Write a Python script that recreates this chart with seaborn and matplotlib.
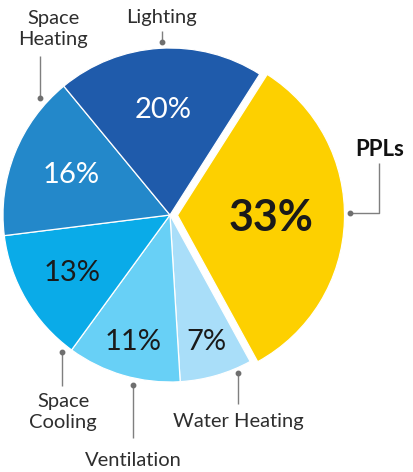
import numpy as np
import matplotlib
matplotlib.use("Agg")
import matplotlib.pyplot as plt
import seaborn as sns

sns.set_theme(style="white")
plt.rcParams["font.family"] = ["Lato", "DejaVu Sans"]

# End-use shares of building electricity
categories = ["PPLs", "Water Heating", "Ventilation", "Space Cooling", "Space Heating", "Lighting"]
shares = [33, 7, 11, 13, 16, 20]
pct_labels = ["33%", "7%", "11%", "13%", "16%", "20%"]

colors = ["#FDD000", "#A9DEF9", "#68D0F6", "#0AABE8", "#2388CA", "#1F5BAB"]
pct_colors = ["#1A1A1A", "#1A1A1A", "#1A1A1A", "#1A1A1A", "white", "white"]

W, H = 413, 472
CX, CY, R = 170, 215, 167


def px(x, y):
    """Pixel position -> data coordinates of the pie (unit radius)."""
    return (x - CX) / R, (CY - y) / R


fig = plt.figure(figsize=(W / 100, H / 100), dpi=100)
ax = fig.add_axes([0, 0, 1, 1])

explode = [0.045, 0, 0, 0, 0, 0]
wedges, _ = ax.pie(
    shares, colors=colors, startangle=57.5, counterclock=False,
    explode=explode, radius=1.0,
    wedgeprops=dict(edgecolor="white", linewidth=0.9),
)

# Percentage labels inside the wedges
pct_r = [0.56, 0.79, 0.79, 0.68, 0.64, 0.63]
for w, lab, col, r in zip(wedges, pct_labels, pct_colors, pct_r):
    ang = np.deg2rad((w.theta1 + w.theta2) / 2)
    cx, cy = w.center
    x, y = cx + r * np.cos(ang), cy + r * np.sin(ang)
    if lab == "33%":
        ax.text(x, y, lab, ha="center", va="center", color=col,
                fontsize=31, fontweight="bold")
    else:
        ax.text(x, y, lab, ha="center", va="center", color=col,
                fontsize=21, fontweight="normal")

# Category call-outs with leader lines
line_kw = dict(color="#7F7F7F", linewidth=1.0, solid_capstyle="butt")


def leader(points):
    xs, ys = zip(*[px(*p) for p in points])
    ax.plot(xs, ys, **line_kw)
    ax.plot(xs[0], ys[0], "o", color="#6F6F6F", markersize=3.2)


leader([(162, 42), (162, 31)])
leader([(40, 98), (40, 56)])
leader([(350, 213), (379, 213), (379, 163)])
leader([(62, 352), (62, 386)])
leader([(133, 385), (133, 438)])
leader([(238, 373), (238, 404)])

txt_kw = dict(ha="center", va="center", color="#2E2E2E", fontsize=14.5,
              fontweight="normal", linespacing=1.35)
ax.text(*px(162, 17), "Lighting", **txt_kw)
ax.text(*px(53, 29), "Space\nHeating", **txt_kw)
ax.text(*px(63, 412), "Space\nCooling", **txt_kw)
ax.text(*px(133, 461), "Ventilation", **txt_kw)
ax.text(*px(238, 422), "Water Heating", **txt_kw)
ax.text(*px(380, 149), "PPLs", ha="center", va="center", color="#111111",
        fontsize=16, fontweight="bold")

ax.set_xlim(-CX / R, (W - CX) / R)
ax.set_ylim((CY - H) / R, CY / R)
ax.set_aspect("equal")
ax.axis("off")

fig.savefig("out.png", dpi=100, facecolor="white")
